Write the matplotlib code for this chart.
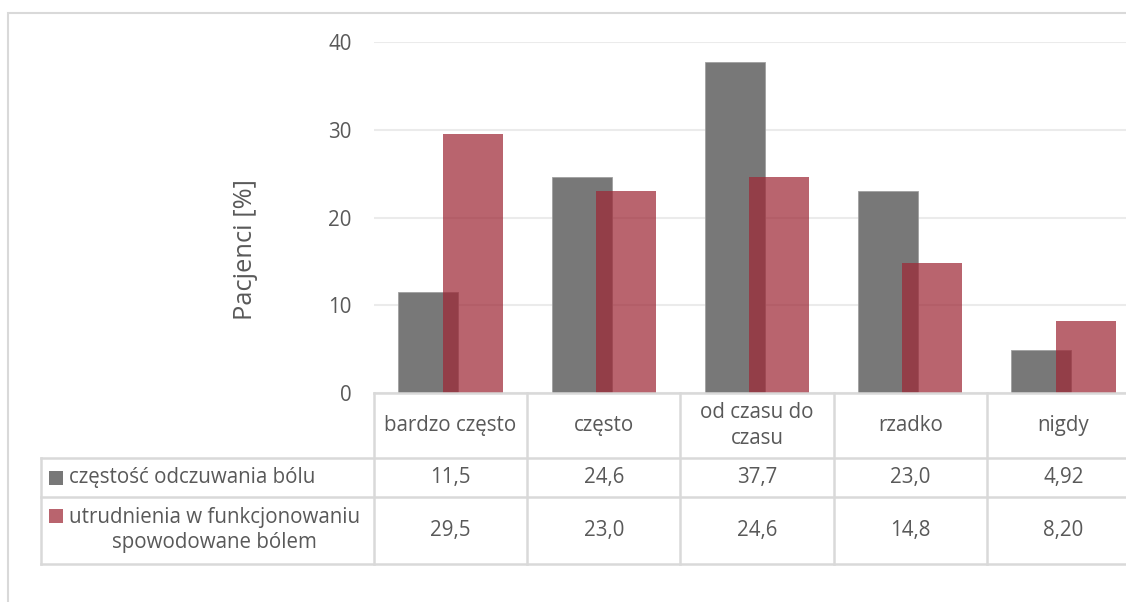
import matplotlib
matplotlib.use("Agg")
import matplotlib.pyplot as plt
from matplotlib.patches import Rectangle
from matplotlib.lines import Line2D

categories = ["bardzo często", "często", "od czasu do\nczasu", "rzadko", "nigdy"]
series_names = ["częstość odczuwania bólu",
                "utrudnienia w funkcjonowaniu\nspowodowane bólem"]
pain_frequency = [11.5, 24.6, 37.7, 23.0, 4.92]
pain_difficulty = [29.5, 23.0, 24.6, 14.8, 8.20]
pain_frequency_labels = ["11,5", "24,6", "37,7", "23,0", "4,92"]
pain_difficulty_labels = ["29,5", "23,0", "24,6", "14,8", "8,20"]
y_ticks = [0, 10, 20, 30, 40]
y_label = "Pacjenci [%]"

W, H = 1126, 602
TEXT = "#595959"
LINE = "#d9d9d9"
GRAY = "#787878"
RED = "#9e2836"
RED_ALPHA = 0.72
FONT = "Open Sans"

plt.rcParams["font.family"] = [FONT, "DejaVu Sans"]

fig = plt.figure(figsize=(W / 100, H / 100), dpi=100)

def fx(px):
    return px / W

def fy(py):
    return 1 - py / H

# chart frame
fig.add_artist(Rectangle((fx(8), fy(700)), fx(1300), (700 - 13) / H,
                         transform=fig.transFigure, fill=False,
                         edgecolor=LINE, linewidth=1.5))

ax_left, ax_right = 374, 1140
ax_top, ax_bottom = 42, 393
ax = fig.add_axes([fx(ax_left), fy(ax_bottom), fx(ax_right - ax_left),
                   (ax_bottom - ax_top) / H])

n = len(categories)
x = list(range(n))
width = 0.392
offset = 0.145
ax.bar([i - offset for i in x], pain_frequency, width, color=GRAY,
       edgecolor="#a0a0a0", linewidth=0.6, zorder=2)
ax.bar([i + offset for i in x], pain_difficulty, width, color=RED,
       alpha=RED_ALPHA, linewidth=0, zorder=3)

ax.set_xlim(-0.5, n - 0.5)
ax.set_ylim(0, 40)
ax.set_yticks(y_ticks)
ax.tick_params(axis="y", length=0, pad=16, labelsize=14.8, labelcolor=TEXT)
ax.set_xticks([])
for s in ax.spines.values():
    s.set_visible(False)
ax.yaxis.grid(True, color="#ebebeb", linewidth=1.5, zorder=0)
ax.set_axisbelow(True)

fig.text(fx(245), fy(250), y_label, rotation=90, ha="center", va="center",
         fontsize=18.4, color=TEXT)

# data table below the plot area
col_w = (ax_right - ax_left) / n
row_y = [393, 458, 497, 564]
label_left = 41
lw = 1.8

def hline(y, x0, x1):
    fig.add_artist(Line2D([fx(x0), fx(x1)], [fy(y), fy(y)],
                          transform=fig.transFigure, color=LINE, linewidth=lw))

def vline(xp, y0, y1):
    fig.add_artist(Line2D([fx(xp), fx(xp)], [fy(y0), fy(y1)],
                          transform=fig.transFigure, color=LINE, linewidth=lw))

hline(row_y[0], ax_left, ax_right)
for y in row_y[1:]:
    hline(y, label_left, ax_right)
vline(label_left, row_y[1], row_y[3])
for i in range(n + 1):
    vline(ax_left + i * col_w, row_y[0], row_y[3])

TS = 14.8
LS = 1.27
for i, cat in enumerate(categories):
    cx = ax_left + (i + 0.5) * col_w
    fig.text(fx(cx), fy((row_y[0] + row_y[1]) / 2), cat, ha="center",
             va="center", fontsize=TS, color=TEXT, linespacing=LS)
    fig.text(fx(cx), fy((row_y[1] + row_y[2]) / 2), pain_frequency_labels[i],
             ha="center", va="center", fontsize=TS, color=TEXT)
    fig.text(fx(cx), fy((row_y[2] + row_y[3]) / 2), pain_difficulty_labels[i],
             ha="center", va="center", fontsize=TS, color=TEXT)

# legend keys inside the row headers
for k, (name, col, alpha) in enumerate(zip(series_names, [GRAY, RED],
                                           [1.0, RED_ALPHA])):
    top = [471, 509][k]
    fig.add_artist(Rectangle((fx(49), fy(top + 14)), fx(14), 14 / H,
                             transform=fig.transFigure, facecolor=col,
                             alpha=alpha, edgecolor="none"))
    fig.text(fx(69), fy([477, 530][k]), name, ha="left", va="center",
             fontsize=TS, color=TEXT, multialignment="center",
             linespacing=LS)

fig.savefig("out.png", dpi=100)
